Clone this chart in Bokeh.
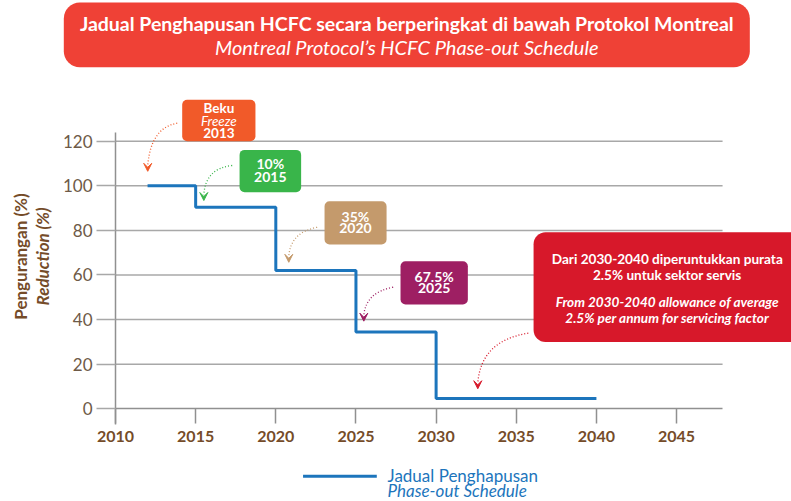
from bokeh.plotting import figure
from bokeh.models import Range1d, FixedTicker, BoxAnnotation, Arrow, VeeHead
from bokeh.core.properties import value
from bokeh.embed import file_html
from bokeh.resources import INLINE
import math

# ---- data ----
step_years = [2012, 2015, 2020, 2025, 2030, 2040]
step_levels = [100, 90.4, 62, 34.4, 4.6, 4.6]
x_ticks = [2010, 2015, 2020, 2025, 2030, 2035, 2040, 2045]
y_ticks = [0, 20, 40, 60, 80, 100, 120]
grid_levels = [20, 40, 60, 80, 100, 120]

title_l1 = "Jadual Penghapusan HCFC secara berperingkat di bawah Protokol Montreal"
title_l2 = "Montreal Protocol\u2019s HCFC Phase-out Schedule"
ylab1 = "Pengurangan (%)"
ylab2 = "Reduction (%)"
legend_l1 = "Jadual Penghapusan"
legend_l2 = "Phase-out Schedule"

FONT = value("Lato")
BROWN = "#754C29"
BLUE = "#1C75BC"
GRID = "#A8A8A8"
AXIS = "#909090"

p = figure(width=791, height=501, x_range=Range1d(2002.826, 2052.17),
           y_range=Range1d(-41.57, 183.09), output_backend="svg",
           toolbar_location=None, min_border=0, outline_line_color=None)
p.grid.visible = False

# axes
xa = p.xaxis[0]
xa.fixed_location = 0
xa.bounds = (2010, 2047.87)
xa.ticker = FixedTicker(ticks=x_ticks)
xa.axis_line_color = AXIS
xa.axis_line_width = 1.5
xa.major_tick_line_color = AXIS
xa.major_tick_line_width = 1.5
xa.major_tick_out = 15
xa.major_tick_in = 0
xa.minor_tick_line_color = None
xa.major_label_standoff = 7
xa.major_label_text_font = "Lato"
xa.major_label_text_font_style = "bold"
xa.major_label_text_font_size = "16px"
xa.major_label_text_color = BROWN

ya = p.yaxis[0]
ya.fixed_location = 2010
ya.bounds = (-7.2, 124)
ya.ticker = FixedTicker(ticks=y_ticks)
ya.axis_line_color = AXIS
ya.axis_line_width = 1.5
ya.major_tick_line_color = GRID
ya.major_tick_line_width = 1.5
ya.major_tick_out = 19
ya.major_tick_in = 0
ya.minor_tick_line_color = None
ya.major_label_standoff = 4
ya.major_label_text_font = "Lato"
ya.major_label_text_font_size = "17px"
ya.major_label_text_color = "#6E5A47"

# grid lines
p.segment(x0=[2010] * len(grid_levels), x1=[2047.87] * len(grid_levels),
          y0=grid_levels, y1=grid_levels, line_color=GRID, line_width=1.5, level="image")

# step line
p.step(x=step_years, y=step_levels, mode="after", line_color=BLUE, line_width=3)

# boxes
def box(l, r, t, b, color, radius):
    bx = BoxAnnotation(left=l, right=r, top=t, bottom=b, fill_color=color, fill_alpha=1,
                       line_color=None, border_radius=radius, level="underlay")
    p.renderers.append(bx)

box(2006.775, 2049.57, 182.2, 153.2, "#EF4136", 16)
box(2014.16, 2018.73, 138.6, 120.0, "#F15A29", 5)
box(2017.74, 2021.58, 116.1, 97.1, "#39B54A", 5)
box(2023.04, 2026.91, 93.1, 73.7, "#C49A6C", 5)
box(2027.78, 2031.98, 66.2, 46.8, "#9E1F63", 5)
box(2036.08, 2053.0, 79.2, 29.9, "#D7182A", 12)

def txt(x, y, s, size, style="normal", color="white", align="center", angle=0):
    p.text(x=[x], y=[y], text=[s], text_font=FONT, text_font_size=size,
           text_font_style=style, text_color=color, text_align=align,
           text_baseline="middle", angle=angle)

# title
txt(2028.17, 173.0, title_l1, "19.5px", "bold")
txt(2028.17, 162.2, title_l2, "20px", "italic")

# callouts
txt(2016.45, 135.0, "Beku", "13.5px", "bold")
txt(2016.45, 129.0, "Freeze", "13.5px", "italic")
txt(2016.45, 123.5, "2013", "13.5px", "bold")
txt(2019.66, 110.0, "10%", "14px", "bold")
txt(2019.66, 104.1, "2015", "14px", "bold")
txt(2024.97, 86.2, "35%", "14px", "bold")
txt(2024.97, 81.1, "2020", "14px", "bold")
txt(2029.88, 59.3, "67.5%", "14px", "bold")
txt(2029.88, 54.2, "2025", "14px", "bold")
txt(2044.42, 67.3, "Dari 2030-2040 diperuntukkan purata", "13.6px", "bold")
txt(2044.42, 60.1, "2.5% untuk sektor servis", "13.6px", "bold")
txt(2044.42, 48.1, "From 2030-2040 allowance of average", "13.6px", "bold italic")
txt(2044.42, 40.8, "2.5% per annum for servicing factor", "13.6px", "bold italic")

# curved dotted arrows
def curve(x0, y0, cx, cy, x1, y1, color):
    p.quadratic(x0=[x0], y0=[y0], cx=[cx], cy=[cy], x1=[x1], y1=[y1 + 2.5],
                line_color=color, line_width=1.3, line_dash="1 2")
    p.add_layout(Arrow(end=VeeHead(size=8, fill_color=color, line_color=color, line_width=1),
                       x_start=x1, y_start=y1 + 3, x_end=x1, y_end=y1, line_alpha=0))

curve(2013.85, 128.1, 2012.2, 126.0, 2012.01, 106.5, "#F15A29")
curve(2017.28, 109.1, 2015.6, 107.8, 2015.51, 93.4, "#39B54A")
curve(2022.58, 81.4, 2020.9, 79.1, 2020.81, 65.7, "#C49A6C")
curve(2027.32, 54.5, 2025.6, 52.2, 2025.49, 39.3, "#9E1F63")
curve(2035.75, 33.9, 2032.8, 30.6, 2032.6, 9.0, "#D7182A")

# y axis titles
txt(2004.07, 68.3, ylab1, "17px", "bold", BROWN, angle=math.pi / 2)
txt(2005.46, 68.3, ylab2, "17px", "bold italic", BROWN, angle=math.pi / 2)

# legend
p.line(x=[2021.7, 2026.3], y=[-30.2, -30.2], line_color=BLUE, line_width=3)
txt(2026.97, -29.9, legend_l1, "17px", "normal", BLUE, align="left")
txt(2026.97, -36.7, legend_l2, "17px", "italic", BLUE, align="left")

open("out.html", "w").write(file_html(p, INLINE))
